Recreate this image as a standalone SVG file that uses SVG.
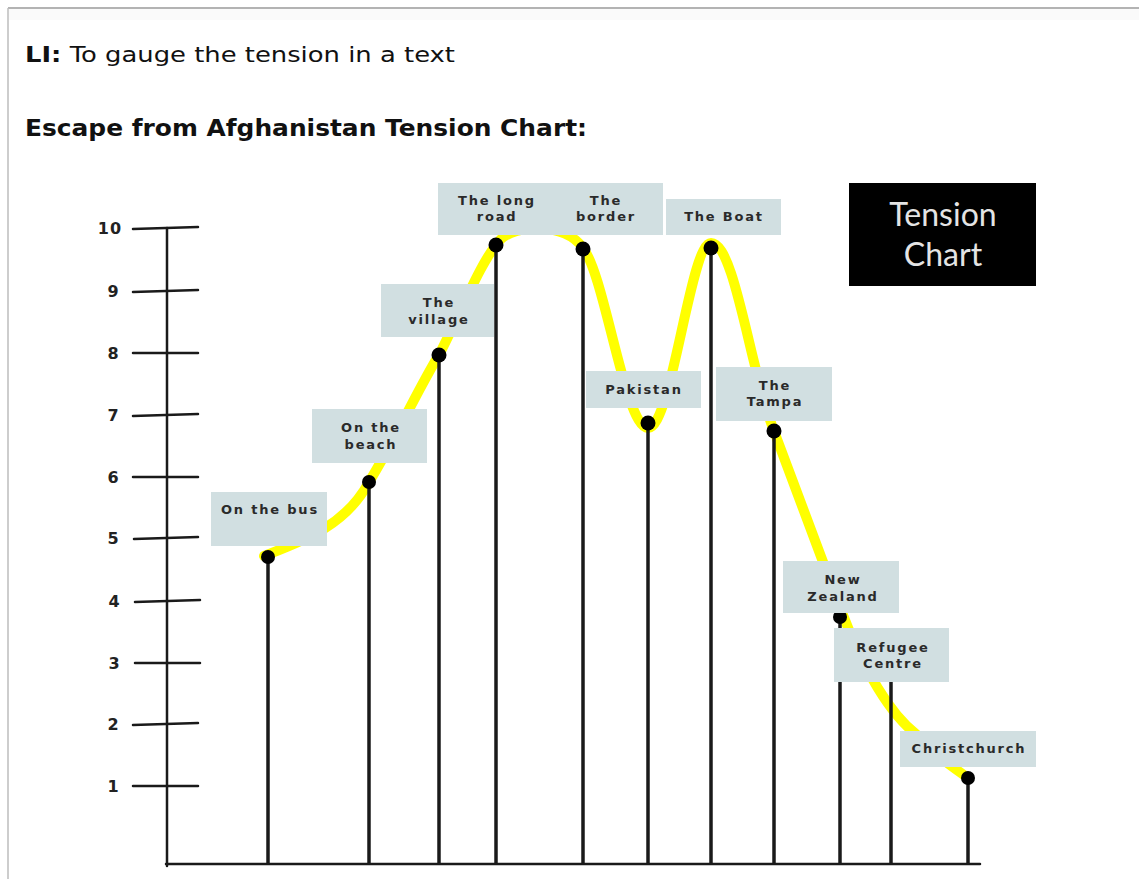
<svg xmlns="http://www.w3.org/2000/svg" width="1139" height="879" viewBox="0 0 1139 879">
<style>
.lbl{font-family:"DejaVu Sans",sans-serif;font-weight:bold;font-size:13px;letter-spacing:1.8px;fill:#2a2a2a;text-anchor:middle}
.box{fill:#d1dfe1}
.num{font-family:"DejaVu Sans",sans-serif;font-weight:bold;font-size:16px;fill:#222;text-anchor:middle}
.ax{stroke:#1a1a1a;stroke-width:2.5;fill:none;stroke-linecap:round}
.stem{stroke:#1a1a1a;stroke-width:3.5;fill:none}
.dot{fill:#000}
.hd{font-family:"DejaVu Sans",sans-serif;fill:#111}
</style>
<rect x="0" y="0" width="1139" height="879" fill="#fff"/>
<rect x="9" y="9" width="1130" height="11" fill="#fafafa"/>
<line x1="8" y1="8" x2="1139" y2="8" stroke="#b3b3b3" stroke-width="2"/>
<line x1="8" y1="8" x2="8" y2="879" stroke="#bdbdbd" stroke-width="1.5"/>

<g id="header">
<text class="hd" x="25" y="62" font-size="21.5" textLength="430" lengthAdjust="spacingAndGlyphs"><tspan font-weight="bold">LI:</tspan> To gauge the tension in a text</text>
<text class="hd" x="25" y="136" font-size="22.5" font-weight="bold" textLength="562" lengthAdjust="spacingAndGlyphs">Escape from Afghanistan Tension Chart:</text>
</g>

<g id="axis">
<line class="ax" x1="167" y1="228" x2="167" y2="866"/>
<line class="ax" x1="166" y1="864" x2="980" y2="864"/>
<line class="ax" x1="133" y1="229" x2="198" y2="227"/>
<line class="ax" x1="133" y1="292" x2="198" y2="290"/>
<line class="ax" x1="133" y1="353" x2="198" y2="353"/>
<line class="ax" x1="133" y1="416" x2="198" y2="414"/>
<line class="ax" x1="133" y1="477" x2="198" y2="477"/>
<line class="ax" x1="134" y1="539" x2="198" y2="537"/>
<line class="ax" x1="135" y1="602" x2="200" y2="600"/>
<line class="ax" x1="135" y1="663" x2="200" y2="663"/>
<line class="ax" x1="133" y1="725" x2="198" y2="723"/>
<line class="ax" x1="133" y1="786" x2="198" y2="786"/>
<text class="num" x="110" y="234" letter-spacing="1">10</text>
<text class="num" x="113" y="297">9</text>
<text class="num" x="113" y="359">8</text>
<text class="num" x="113" y="421">7</text>
<text class="num" x="113" y="483">6</text>
<text class="num" x="113" y="544">5</text>
<text class="num" x="114" y="607">4</text>
<text class="num" x="114" y="669">3</text>
<text class="num" x="113" y="730">2</text>
<text class="num" x="113" y="792">1</text>
</g>

<g id="tension-curve">
<path d="M 264 556 C 300 542, 345 527, 369 482 C 395 440, 420 385, 439 355 C 460 315, 480 262, 500 240 C 515 224, 565 222, 583 248 C 605 275, 625 428, 648 428 C 672 428, 690 243, 711 243 C 735 243, 750 370, 774 431 L 841 610 C 860 660, 885 710, 917 735 C 935 755, 950 765, 968 778" fill="none" stroke="#ffff00" stroke-width="10" stroke-linecap="round"/>
</g>

<g id="connectors">
<line class="stem" x1="268" y1="557" x2="268" y2="864"/>
<line class="stem" x1="369" y1="482" x2="369" y2="864"/>
<line class="stem" x1="439" y1="355" x2="439" y2="864"/>
<line class="stem" x1="496" y1="245" x2="496" y2="864"/>
<line class="stem" x1="583" y1="249" x2="583" y2="864"/>
<line class="stem" x1="648" y1="423" x2="648" y2="864"/>
<line class="stem" x1="711" y1="248" x2="711" y2="864"/>
<line class="stem" x1="774" y1="431" x2="774" y2="864"/>
<line class="stem" x1="840" y1="617" x2="840" y2="864"/>
<line class="stem" x1="891" y1="670" x2="891" y2="864"/>
<line class="stem" x1="968" y1="778" x2="968" y2="864"/>
<circle class="dot" cx="268" cy="557" r="7"/>
<circle class="dot" cx="369" cy="482" r="7"/>
<circle class="dot" cx="439" cy="355" r="7.5"/>
<circle class="dot" cx="496" cy="245" r="7.5"/>
<circle class="dot" cx="583" cy="249" r="7.5"/>
<circle class="dot" cx="648" cy="423" r="7.5"/>
<circle class="dot" cx="711" cy="248" r="7.5"/>
<circle class="dot" cx="774" cy="431" r="7.5"/>
<circle class="dot" cx="840" cy="617" r="7"/>
<circle class="dot" cx="968" cy="778" r="7"/>
</g>

<g id="node-on-the-bus">
<rect class="box" x="211" y="492" width="116" height="54"/>
<text class="lbl" x="270" y="514">On the bus</text>
</g>
<g id="node-on-the-beach">
<rect class="box" x="312" y="409" width="115" height="54"/>
<text class="lbl" x="371" y="432">On the</text>
<text class="lbl" x="371" y="449">beach</text>
</g>
<g id="node-the-village">
<rect class="box" x="381" y="284" width="113" height="53"/>
<text class="lbl" x="439" y="307">The</text>
<text class="lbl" x="439" y="324">village</text>
</g>
<g id="node-the-long-road">
<rect class="box" x="438" y="183" width="115" height="52"/>
<text class="lbl" x="497" y="205">The long</text>
<text class="lbl" x="497" y="221">road</text>
</g>
<g id="node-the-border">
<rect class="box" x="552" y="183" width="111" height="52"/>
<text class="lbl" x="606" y="205">The</text>
<text class="lbl" x="606" y="221">border</text>
</g>
<g id="node-the-boat">
<rect class="box" x="666" y="199" width="115" height="36"/>
<text class="lbl" x="724" y="221">The Boat</text>
</g>
<g id="node-pakistan">
<rect class="box" x="586" y="371" width="115" height="37"/>
<text class="lbl" x="644" y="394">Pakistan</text>
</g>
<g id="node-the-tampa">
<rect class="box" x="716" y="367" width="116" height="54"/>
<text class="lbl" x="775" y="390">The</text>
<text class="lbl" x="775" y="406">Tampa</text>
</g>
<g id="node-new-zealand">
<rect class="box" x="783" y="561" width="116" height="52"/>
<text class="lbl" x="843" y="584">New</text>
<text class="lbl" x="843" y="601">Zealand</text>
</g>
<g id="node-refugee-centre">
<rect class="box" x="834" y="628" width="115" height="54"/>
<text class="lbl" x="893" y="652">Refugee</text>
<text class="lbl" x="893" y="668">Centre</text>
</g>
<g id="node-christchurch">
<rect class="box" x="900" y="731" width="136" height="36"/>
<text class="lbl" x="969" y="753">Christchurch</text>
</g>

<g id="node-tension-chart">
<rect x="849" y="183" width="187" height="103" fill="#000"/>
<text x="943" y="226" font-family="Lato, 'Open Sans', sans-serif" font-size="32" fill="#e4e4e4" text-anchor="middle">Tension</text>
<text x="943" y="266" font-family="Lato, 'Open Sans', sans-serif" font-size="32" fill="#e4e4e4" text-anchor="middle">Chart</text>
</g>
</svg>
